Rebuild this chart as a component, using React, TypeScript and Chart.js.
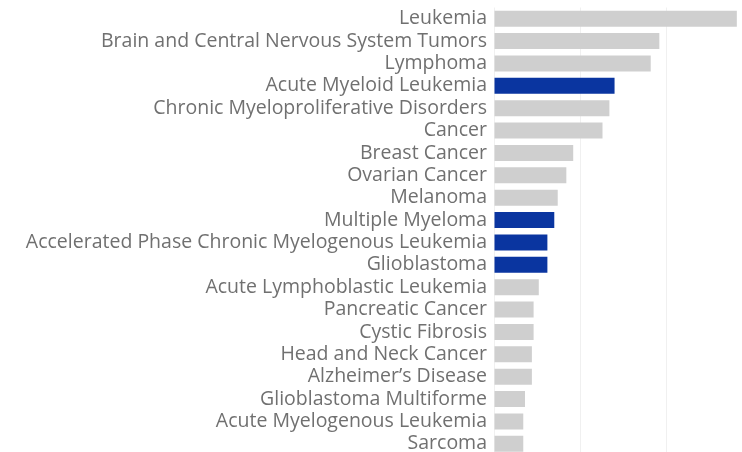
import React, { useEffect, useRef } from "react";
import { Chart, registerables } from "chart.js";

Chart.register(...registerables);

const categories = [
  "Leukemia",
  "Brain and Central Nervous System Tumors",
  "Lymphoma",
  "Acute Myeloid Leukemia",
  "Chronic Myeloproliferative Disorders",
  "Cancer",
  "Breast Cancer",
  "Ovarian Cancer",
  "Melanoma",
  "Multiple Myeloma",
  "Accelerated Phase Chronic Myelogenous Leukemia",
  "Glioblastoma",
  "Acute Lymphoblastic Leukemia",
  "Pancreatic Cancer",
  "Cystic Fibrosis",
  "Head and Neck Cancer",
  "Alzheimer\u2019s Disease",
  "Glioblastoma Multiforme",
  "Acute Myelogenous Leukemia",
  "Sarcoma",
];

const values = [141, 96, 91, 70, 67, 63, 46, 42, 37, 35, 31, 31, 26, 23, 23, 22, 22, 18, 17, 17];

const highlighted = [
  "Acute Myeloid Leukemia",
  "Multiple Myeloma",
  "Accelerated Phase Chronic Myelogenous Leukemia",
  "Glioblastoma",
];

const GREY = "#cfcfcf";
const BLUE = "#0a35a0";

export default function App() {
  const ref = useRef<HTMLCanvasElement | null>(null);

  useEffect(() => {
    if (!ref.current) return;
    const chart = new Chart(ref.current, {
      type: "bar",
      data: {
        labels: categories,
        datasets: [
          {
            data: values,
            backgroundColor: categories.map((c) => (highlighted.includes(c) ? BLUE : GREY)),
            barPercentage: 0.715,
            categoryPercentage: 1,
          },
        ],
      },
      options: {
        indexAxis: "y",
        animation: false,
        responsive: false,
        maintainAspectRatio: false,
        layout: { padding: { top: 7.5, right: 0, bottom: 0, left: 0 } },
        plugins: {
          legend: { display: false },
          tooltip: { enabled: false },
        },
        scales: {
          x: {
            min: 0,
            max: 144,
            ticks: { display: false, stepSize: 50 },
            grid: { color: "#f0f0f0", drawTicks: false },
            border: { display: true, color: "#e4e4e4" },
            afterFit: (scale: any) => {
              scale.height = 0;
              scale.paddingLeft = 0;
              scale.paddingRight = 0;
            },
          },
          y: {
            ticks: {
              autoSkip: false,
              color: "#707070",
              padding: 7,
              font: { family: "'Open Sans'", size: 19.5 },
            },
            grid: { display: false, drawTicks: false },
            border: { display: false },
            afterFit: (scale: any) => {
              scale.width = 494;
              scale.paddingTop = 0;
              scale.paddingBottom = 0;
            },
          },
        },
      },
    });
    return () => chart.destroy();
  }, []);

  return (
    <div style={{ position: "fixed", left: 0, top: 0, width: 742, height: 452, overflow: "hidden", background: "#fff" }}>
      <canvas ref={ref} width={742} height={455} style={{ display: "block" }} />
    </div>
  );
}
